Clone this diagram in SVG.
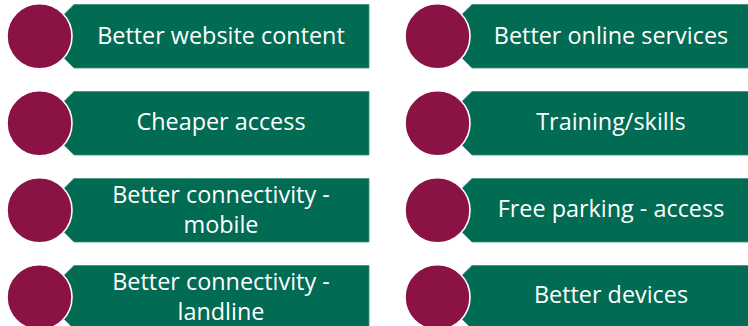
<svg xmlns="http://www.w3.org/2000/svg" width="748" height="326" viewBox="0 0 748 326">
<style>
.ban{fill:#016b53;stroke:#3f8f7a;stroke-width:0.8}
.dot{fill:#8b1245;stroke:#ffffff;stroke-width:1.6}
.lbl{font-family:"Open Sans",Lato,"Liberation Sans",sans-serif;font-size:23.4px;fill:#ffffff;text-anchor:middle}
</style>
<defs>
<path id="bl" d="M74,0 L369,0 L369,63.5 L74,63.5 L42,31.75 Z"/>
<path id="br" d="M472,0 L752,0 L752,63.5 L472,63.5 L440,31.75 Z"/>
</defs>
<g id="connectors"/>
<g id="n1" transform="translate(0,4.5)">
<use href="#bl" class="ban"/><circle class="dot" cx="39.5" cy="31.75" r="32.5"/>
<text class="lbl" x="221" y="39.5">Better website content</text>
</g>
<g id="n2" transform="translate(0,91.5)">
<use href="#bl" class="ban"/><circle class="dot" cx="39.5" cy="31.75" r="32.5"/>
<text class="lbl" x="221" y="38.5">Cheaper access</text>
</g>
<g id="n3" transform="translate(0,178.5)">
<use href="#bl" class="ban"/><circle class="dot" cx="39.5" cy="31.75" r="32.5"/>
<text class="lbl" x="221" y="24.5">Better connectivity -</text>
<text class="lbl" x="221" y="54.5">mobile</text>
</g>
<g id="n4" transform="translate(0,265.5)">
<use href="#bl" class="ban"/><circle class="dot" cx="39.5" cy="31.75" r="32.5"/>
<text class="lbl" x="221" y="24.5">Better connectivity -</text>
<text class="lbl" x="221" y="54.5">landline</text>
</g>
<g id="n5" transform="translate(0,4.5)">
<use href="#br" class="ban"/><circle class="dot" cx="437.5" cy="31.75" r="32.5"/>
<text class="lbl" x="611" y="39.5">Better online services</text>
</g>
<g id="n6" transform="translate(0,91.5)">
<use href="#br" class="ban"/><circle class="dot" cx="437.5" cy="31.75" r="32.5"/>
<text class="lbl" x="611" y="38.5">Training/skills</text>
</g>
<g id="n7" transform="translate(0,178.5)">
<use href="#br" class="ban"/><circle class="dot" cx="437.5" cy="31.75" r="32.5"/>
<text class="lbl" x="611" y="38">Free parking - access</text>
</g>
<g id="n8" transform="translate(0,265.5)">
<use href="#br" class="ban"/><circle class="dot" cx="437.5" cy="31.75" r="32.5"/>
<text class="lbl" x="611" y="37.5">Better devices</text>
</g>
</svg>
